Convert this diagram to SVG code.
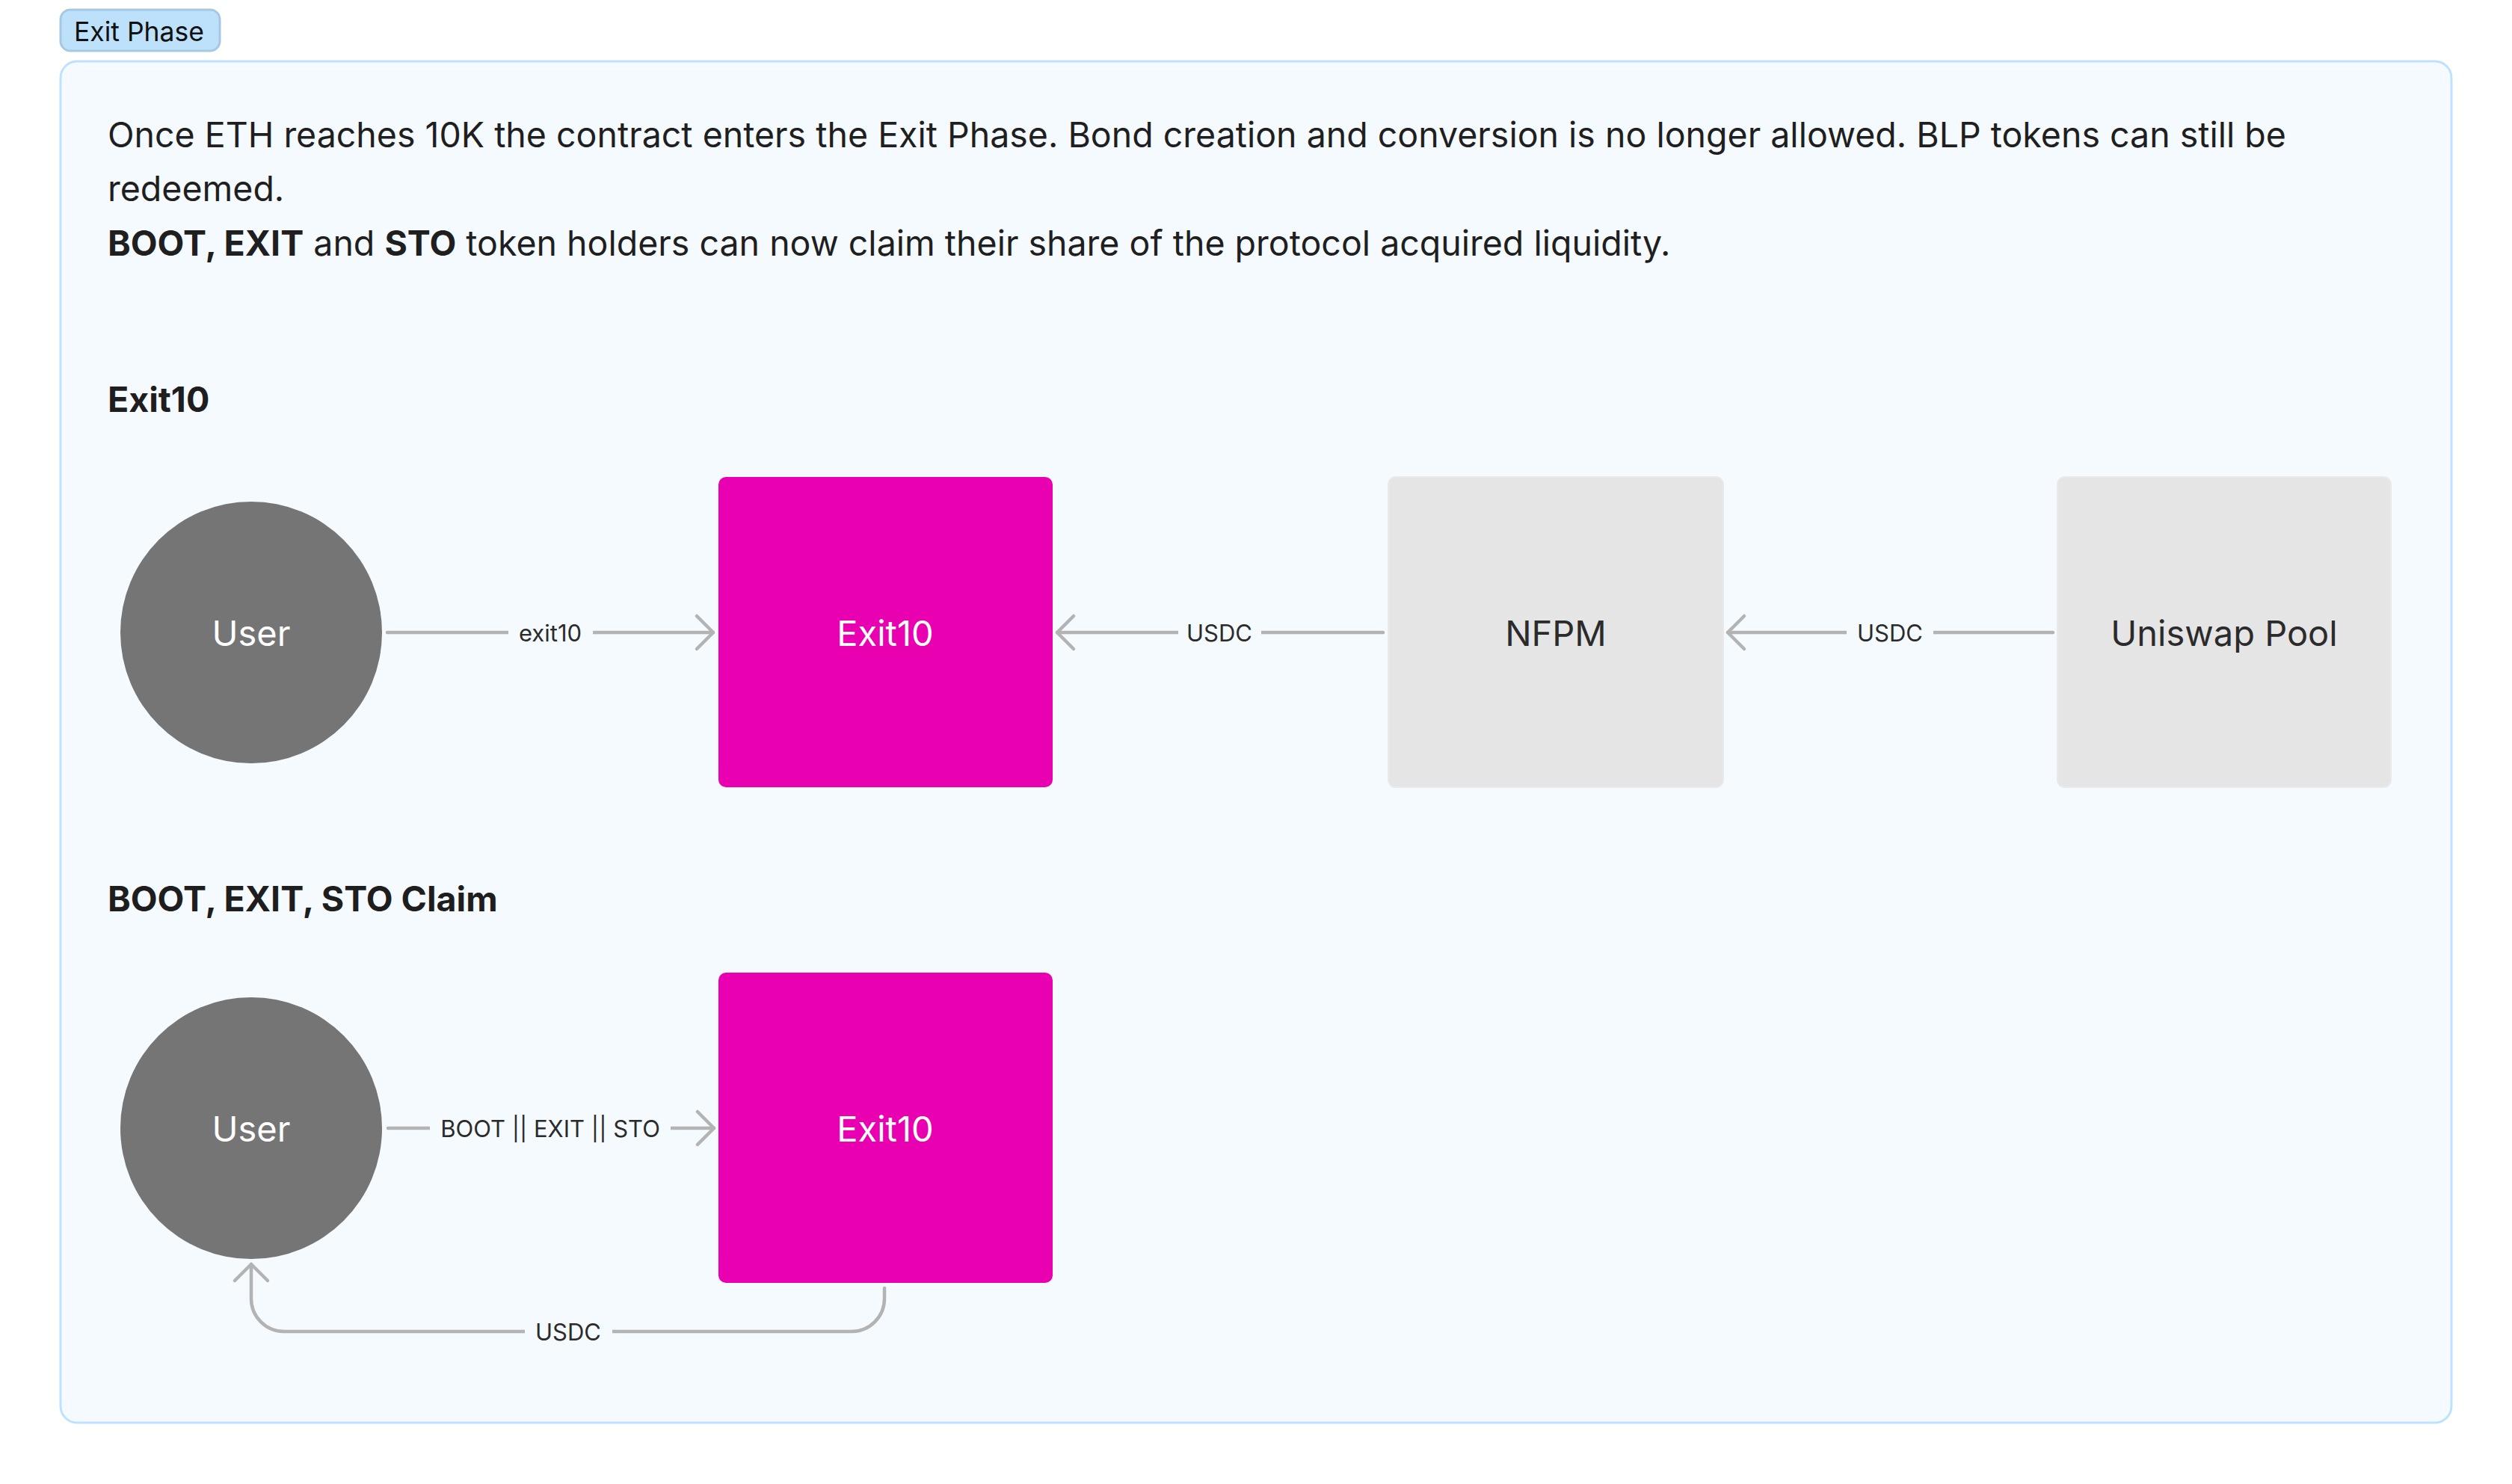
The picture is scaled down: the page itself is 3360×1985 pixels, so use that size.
<svg xmlns="http://www.w3.org/2000/svg" width="3360" height="1985" viewBox="0 0 3360 1985">
<defs>
<style>
.t{font-family:Inter,"Liberation Sans",sans-serif}
.body{font-size:46.5px;fill:#1f1f1f}
.b{font-weight:700}
.h{font-size:46.5px;font-weight:700;fill:#1e1e1e}
.nl{font-size:47px;text-anchor:middle;dominant-baseline:central}
.el{font-size:31px;fill:#2b2b2b;text-anchor:middle;dominant-baseline:central}
.edge{fill:none;stroke:#b3b3b3;stroke-width:4.5;stroke-linecap:round;stroke-linejoin:round;marker-end:url(#chev)}
.lbg{fill:#f5faff}
.user{fill:#757575}
.ex{fill:#e900b1}
.gr{fill:#e5e5e5;stroke:#e9e9e9;stroke-width:2}
</style>
<marker id="chev" markerUnits="userSpaceOnUse" viewBox="-26 -26 30 52" refX="0" refY="0" markerWidth="30" markerHeight="52" orient="auto" overflow="visible">
<path d="M-22,-22 L0,0 L-22,22" fill="none" stroke="#b3b3b3" stroke-width="4.5" stroke-linecap="round" stroke-linejoin="round"/>
</marker>
</defs>
<rect width="3360" height="1985" fill="#ffffff"/>
<g id="container">
<rect x="81" y="82" width="3198" height="1821" rx="22" fill="#f5faff" stroke="#bfe1fb" stroke-width="3"/>
</g>
<g id="badge">
<rect x="81" y="13" width="213" height="55" rx="13" fill="#bde1fb" stroke="#a6c8e2" stroke-width="3"/>
<text class="t" x="99" y="55" font-size="35.5" fill="#111">Exit Phase</text>
</g>
<g id="description">
<text class="t body" x="144" y="197">Once ETH reaches 10K the contract enters the Exit Phase. Bond creation and conversion is no longer allowed. BLP tokens can still be</text>
<text class="t body" x="144" y="269">redeemed.</text>
<text class="t body" x="144" y="342"><tspan class="b">BOOT, EXIT</tspan> and <tspan class="b">STO</tspan> token holders can now claim their share of the protocol acquired liquidity.</text>
</g>
<g id="heading-exit10"><text class="t h" x="144" y="551">Exit10</text></g>
<g id="heading-claim"><text class="t h" x="144" y="1219">BOOT, EXIT, STO Claim</text></g>

<g id="connectors">
<path class="edge" d="M518,846 L954,846"/>
<rect class="lbg" x="680" y="826" width="113" height="40"/>
<text class="t el" x="736" y="846">exit10</text>

<path class="edge" d="M1850,846 L1414,846"/>
<rect class="lbg" x="1576" y="826" width="111" height="40"/>
<text class="t el" x="1631" y="846">USDC</text>

<path class="edge" d="M2746,846 L2311,846"/>
<rect class="lbg" x="2470" y="826" width="116" height="40"/>
<text class="t el" x="2528" y="846">USDC</text>

<path class="edge" d="M519,1509 L955,1509"/>
<rect class="lbg" x="575" y="1489" width="322" height="40"/>
<text class="t el" x="736" y="1509">BOOT || EXIT || STO</text>

<path class="edge" d="M1183,1723 L1183,1737 A44,44 0 0 1 1139,1781 L380,1781 A44,44 0 0 1 336,1737 L336,1691"/>
<rect class="lbg" x="702" y="1761" width="117" height="40"/>
<text class="t el" x="760" y="1781">USDC</text>
</g>

<g id="user1"><circle class="user" cx="336" cy="846" r="175"/><text class="t nl" x="336" y="846" fill="#ffffff">User</text></g>
<g id="exit10-1"><rect class="ex" x="961" y="638" width="447" height="415" rx="10"/><text class="t nl" x="1184" y="846" fill="#ffffff">Exit10</text></g>
<g id="nfpm"><rect class="gr" x="1857" y="638" width="448" height="415" rx="10"/><text class="t nl" x="2081" y="846" fill="#2b2b2b">NFPM</text></g>
<g id="uniswap"><rect class="gr" x="2752" y="638" width="446" height="415" rx="10"/><text class="t nl" x="2975" y="846" fill="#2b2b2b">Uniswap Pool</text></g>

<g id="user2"><circle class="user" cx="336" cy="1509" r="175"/><text class="t nl" x="336" y="1509" fill="#ffffff">User</text></g>
<g id="exit10-2"><rect class="ex" x="961" y="1301" width="447" height="415" rx="10"/><text class="t nl" x="1184" y="1509" fill="#ffffff">Exit10</text></g>
</svg>
